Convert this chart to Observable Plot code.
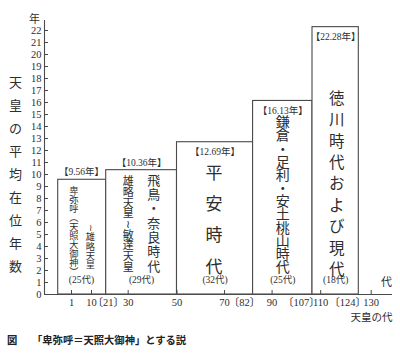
<!DOCTYPE html>
<html><head><meta charset="utf-8">
<script src="https://cdn.jsdelivr.net/npm/d3@7"></script>
<script src="https://cdn.jsdelivr.net/npm/@observablehq/plot@0.6"></script>
<style>
html,body{margin:0;padding:0;background:#fff;}
#wrap{position:relative;width:400px;height:355px;overflow:hidden;background:#fff;}
#chart{position:absolute;left:0;top:0;}
svg text{font-feature-settings:"halt";}
.caption{position:absolute;top:333px;left:7px;font:bold 10.3px "Noto Sans CJK JP";color:#222;white-space:pre;line-height:14px;}
</style></head><body>
<div id="wrap"><div id="chart"></div>
<div class="caption"><span>図</span><span style="position:absolute;left:25px;top:0">「卑弥呼＝天照大御神」とする説</span></div>
</div>
<script>
// ---- data ----
const starts = [-4, 21, 50, 82, 107];
const ends = [21, 50, 82, 107, 124];
const avgYears = [9.56, 10.36, 12.69, 16.13, 22.28];
const reignCounts = [25, 29, 32, 25, 18];
const eraColA = ["卑弥呼︵天照大御神︶", "雄略天皇〜敏達天皇", "平安時代", "鎌倉・足利・安土桃山時代", "徳川時代および現代"];
const eraColB = ["〜雄略天皇", "飛鳥・奈良時代", "", "", ""];
const xTickValues = [1, 10, 30, 50, 70, 90, 110, 130];
const xBoundaryValues = [21, 82, 107, 124];
const yTickValues = [0, 1, 2, 3, 4, 5, 6, 7, 8, 9, 10, 11, 12, 13, 14, 15, 16, 17, 18, 19, 20, 21, 22];
const yTitle = "天皇の平均在位年数";
const yUnit = "年";
const xTitle = "天皇の代";
const xUnit = "代";

const eras = starts.map((s, i) => ({
  i, start: s, end: ends[i], mid: (s + ends[i]) / 2,
  avg: avgYears[i], count: reignCounts[i], colA: eraColA[i], colB: eraColB[i]
}));

const vert = s => Array.from(s).map(c => c === "〜" ? "≀" : c).join("\n");

const SERIF = "'Liberation Serif','Noto Sans CJK JP',serif";
const CJK = "'Noto Sans CJK JP','Liberation Serif',sans-serif";
const INK = "#2e2e2e";
const LINE = "#4a4a4a";

const barText = (i, col, opts) => Plot.text(eras, {
  filter: d => d.i === i, x: "mid", y: "avg", text: d => vert(d[col]),
  lineAnchor: "top", fontFamily: CJK, fill: INK, ...opts
});

const chart = Plot.plot({
  width: 400,
  height: 328,
  marginTop: 20,
  marginBottom: 34,
  marginLeft: 44,
  marginRight: 8,
  style: {background: "white", fontFamily: SERIF},
  x: {type: "linear", domain: [-4, 1, 10, 21, 50, 107, 124, 130],
      range: [57.7, 71, 91, 105.7, 176.5, 312, 358.3, 370.7], axis: null},
  y: {domain: [0, 22], range: [294, 30], axis: null},
  marks: [
    Plot.rectY(eras, {x1: "start", x2: "end", y: "avg", fill: "white", stroke: LINE, strokeWidth: 1.1}),
    Plot.ruleY([0], {stroke: LINE, strokeWidth: 1.1}),
    Plot.frame({anchor: "left", stroke: LINE, strokeWidth: 1.1}),
    Plot.tickY(yTickValues, {y: d => d, insetRight: 344, stroke: LINE}),
    Plot.text(yTickValues, {y: d => d, text: d => String(d), frameAnchor: "left", textAnchor: "end",
      dx: -3, fontSize: 10.5, fontFamily: SERIF, fill: INK}),
    Plot.text([yUnit], {frameAnchor: "top-left", textAnchor: "middle", dx: -10, dy: -5, fontSize: 11, fontFamily: CJK, fill: INK}),
    Plot.text([yTitle], {text: d => vert(d), frameAnchor: "left", textAnchor: "middle", dx: -29, dy: 14,
      lineAnchor: "middle", fontSize: 13, lineHeight: 1.77, fontFamily: CJK, fill: INK}),
    Plot.tickX(xTickValues, {x: d => d, insetTop: 270, stroke: LINE}),
    Plot.text(xTickValues, {x: d => d, text: d => String(d), frameAnchor: "bottom", dy: 11,
      fontSize: 10.5, fontFamily: SERIF, fill: INK}),
    Plot.text(xBoundaryValues, {filter: d => d === xBoundaryValues[0], x: d => d, text: d => `〔${d}〕`,
      frameAnchor: "bottom", dx: 2, dy: 11, fontSize: 10.5, fontFamily: SERIF, fill: INK}),
    Plot.text(xBoundaryValues, {filter: d => d !== xBoundaryValues[0], x: d => d, text: d => `〔${d}〕`,
      frameAnchor: "bottom", textAnchor: "end", dx: 2, dy: 11, fontSize: 10.5, fontFamily: SERIF, fill: INK}),
    Plot.text([xUnit], {frameAnchor: "bottom-right", textAnchor: "middle", dx: -6, dy: -9, fontSize: 11, fontFamily: CJK, fill: INK}),
    Plot.text([xTitle], {frameAnchor: "bottom-right", textAnchor: "end", dy: 26, fontSize: 10.5, fontFamily: CJK, fill: INK}),
    // average labels
    Plot.text(eras, {filter: d => d.i === 0, x: "mid", y: "avg", text: d => `【${d.avg.toFixed(2)}年】`,
      dx: -6.7, dy: -7.5, fontSize: 9.5, fontFamily: SERIF, fill: INK}),
    Plot.text(eras, {filter: d => d.i === 1, x: "mid", y: "avg", text: d => `【${d.avg.toFixed(2)}年】`,
      dy: -7.5, fontSize: 9.5, fontFamily: SERIF, fill: INK}),
    Plot.text(eras, {filter: d => d.i >= 2, x: "mid", y: "avg", text: d => `【${d.avg.toFixed(2)}年】`,
      dy: 10, fontSize: 9.5, fontFamily: SERIF, fill: INK}),
    // count labels
    Plot.text(eras, {filter: d => d.i === 0, x: "mid", text: d => `(${d.count}代)`, frameAnchor: "bottom",
      dx: -6.7, dy: -11.7, fontSize: 9.5, fontFamily: SERIF, fill: INK}),
    Plot.text(eras, {filter: d => d.i > 0, x: "mid", text: d => `(${d.count}代)`, frameAnchor: "bottom",
      dy: -11.7, fontSize: 9.5, fontFamily: SERIF, fill: INK}),
    // era names (vertical)
    barText(0, "colA", {dx: -14.4, dy: 8, fontSize: 9.2, lineHeight: 0.98}),
    barText(0, "colB", {dx: 2.3, dy: 45, fontSize: 9.2, lineHeight: 1.0}),
    barText(1, "colA", {dx: -13.4, dy: 7.5, fontSize: 11, lineHeight: 0.97}),
    barText(1, "colB", {dx: 12.2, dy: 4.5, fontSize: 13, lineHeight: 1.1}),
    barText(2, "colA", {dx: -1, dy: 14, fontSize: 17, lineHeight: 1.85}),
    barText(3, "colA", {dx: 0, dy: 17, fontSize: 14, lineHeight: 0.94}),
    barText(4, "colA", {dx: 1, dy: 61.5, fontSize: 15.5, lineHeight: 1.38})
  ]
});
document.getElementById("chart").appendChild(chart);
</script>
</body></html>
